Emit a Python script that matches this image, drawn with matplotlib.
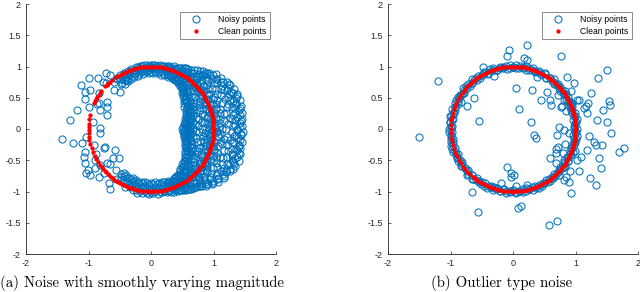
import numpy as np
import matplotlib.pyplot as plt

BLUE = '#0072BD'
RED = '#FF0000'
GRAY = '#262626'

# ---------- tick labels ----------
x_ticks = [-2, -1, 0, 1, 2]
x_tick_labels = ['-2', '-1', '0', '1', '2']
y_ticks = [-2, -1.5, -1, -0.5, 0, 0.5, 1, 1.5, 2]
y_tick_labels = ['-2', '-1.5', '-1', '-0.5', '0', '0.5', '1', '1.5', '2']

captions = ['(a) Noise with smoothly varying magnitude', '(b) Outlier type noise']

# ---------- (a) noisy points, right crescent: angle (deg) -> radii (x100) ----------
crescent_deg = [-74, -72, -70, -68, -66, -64, -62, -60, -58, -56, -54, -52, -50, -48, -46,
                -44, -42, -40, -38, -36, -34, -32, -30, -28, -26, -24, -22, -20, -18, -16,
                -14, -12, -10, -8, -6, -4, -2, 0, 2, 4, 6, 8, 10, 12, 14, 16, 18, 20, 22,
                24, 26, 28, 30, 32, 34, 36, 38, 40, 42, 44, 46, 48, 50, 52, 54, 56, 58, 60,
                62, 64, 66, 68, 70, 72, 74]
crescent_r = [
    [90, 99, 104], [88, 96, 106], [92, 101, 107], [89, 97, 103], [91, 100, 108],
    [88, 93, 104, 108], [86, 99, 102, 111], [89, 95, 107, 112], [84, 98, 103, 113],
    [87, 91, 106, 115], [80, 97, 101, 117], [85, 89, 109, 118],
    [79, 86, 101, 112, 120], [75, 93, 99, 116, 123], [80, 88, 105, 110, 127],
    [73, 96, 102, 121, 126], [78, 84, 108, 115, 132], [70, 91, 97, 124, 129],
    [76, 87, 106, 113, 137], [68, 94, 100, 119, 133], [73, 83, 109, 127, 141],
    [65, 90, 103, 117, 136],
    [66, 71, 98, 104, 122, 139], [63, 85, 90, 117, 133, 144], [61, 78, 81, 112, 126, 146],
    [68, 74, 101, 108, 139, 147], [58, 83, 96, 119, 124, 142], [62, 70, 92, 113, 130, 149],
    [57, 88, 99, 106, 137, 145], [65, 76, 94, 121, 128, 148], [54, 80, 87, 110, 134, 141],
    [60, 73, 103, 116, 125, 146], [53, 69, 91, 97, 132, 143], [58, 84, 89, 118, 127, 147],
    [51, 66, 95, 107, 122, 140], [63, 77, 86, 111, 136, 145], [55, 72, 100, 105, 129, 147],
    [50, 81, 93, 114, 120, 138], [59, 67, 88, 109, 131, 146], [52, 75, 97, 102, 124, 142],
    [64, 70, 90, 117, 135, 147], [54, 82, 85, 112, 127, 139], [61, 68, 99, 106, 133, 148],
    [56, 79, 92, 119, 123, 144], [66, 74, 87, 104, 138, 149], [57, 85, 96, 115, 126, 141],
    [63, 71, 101, 110, 130, 150], [59, 77, 93, 121, 134, 145], [68, 82, 89, 107, 128, 148],
    [61, 75, 98, 116, 137, 143], [70, 86, 94, 111, 125, 147], [64, 78, 103, 119, 132, 140],
    [67, 84, 91, 108, 129, 145],
    [69, 80, 106, 122, 143], [64, 92, 98, 117, 135], [72, 86, 104, 125, 139],
    [67, 95, 101, 114, 131], [74, 83, 108, 120, 136], [70, 90, 97, 118, 128],
    [77, 87, 103, 112, 130], [73, 94, 100, 121, 125], [80, 85, 107, 114, 124],
    [76, 92, 98, 111, 121],
    [81, 96, 104, 119], [86, 92, 110, 116], [83, 99, 102, 114], [88, 94, 107, 113],
    [85, 97, 100, 112], [89, 93, 105, 110], [87, 98, 103, 109],
    [88, 98, 106], [89, 95, 104], [90, 99, 107], [88, 97, 103], [91, 100, 105]]

# second, interleaved set of crescent points
crescent2_deg = [-73, -71, -69, -67, -65, -63, -61, -59, -57, -55, -53, -51, -49, -47, -45,
                 -43, -41, -39, -37, -35, -33, -31, -29, -27, -25, -23, -21, -19, -17, -15,
                 -13, -11, -9, -7, -5, -3, -1, 1, 3, 5, 7, 9, 11, 13, 15, 17, 19, 21, 23,
                 25, 27, 29, 31, 33, 35, 37, 39, 41, 43, 45, 47, 49, 51, 53, 55, 57, 59,
                 61, 63, 65, 67, 69, 71, 73]
crescent2_r = [
    [93, 102], [89, 98], [94, 105], [90, 100], [86, 97, 107], [91, 103, 110],
    [87, 96, 108], [85, 101, 111], [90, 99, 114], [82, 95, 112], [87, 104, 116],
    [79, 93, 118], [84, 102, 120], [77, 97, 114], [82, 108, 125], [75, 93, 119],
    [79, 104, 131], [72, 99, 122], [81, 110, 134], [70, 95, 128], [77, 105, 139],
    [67, 101, 131], [74, 94, 137], [65, 108, 141], [71, 99, 134], [62, 113, 145],
    [69, 97, 138], [60, 107, 142], [67, 92, 135], [58, 103, 146], [64, 98, 139],
    [56, 112, 144], [62, 95, 134], [55, 109, 143], [60, 91, 133], [53, 106, 144],
    [61, 98, 137], [55, 103, 142], [62, 94, 135], [57, 111, 145], [60, 99, 130],
    [56, 105, 144], [63, 93, 137], [58, 113, 146], [65, 100, 134], [60, 108, 143],
    [66, 97, 139], [62, 111, 147], [69, 102, 133], [65, 95, 141], [72, 113, 136],
    [67, 100, 144], [74, 109, 133], [70, 96, 138], [77, 112, 129], [71, 99, 133],
    [79, 110, 126], [73, 101, 131], [81, 107, 122], [76, 97, 127], [83, 109, 119],
    [79, 100, 117], [84, 106], [82, 112], [87, 101], [85, 109], [90, 104], [87, 111],
    [91, 101], [89, 107], [92, 102], [90, 105], [93, 100], [91, 104]]

# (a) noisy points, top band
top_deg = [76, 78, 80, 82, 84, 86, 88, 90, 92, 94, 96, 98, 100, 102, 104, 106, 108, 110,
           112, 114, 116, 118, 120, 122, 124]
top_r = [[89, 97, 104], [91, 99, 103], [88, 95, 102], [92, 98, 103], [90, 96, 101],
         [93, 99, 103], [89, 97, 102], [92, 98, 103], [90, 95, 101], [93, 99, 102],
         [91, 97, 103], [89, 96, 101], [92, 99, 102], [90, 95, 101], [88, 97, 102],
         [91, 98], [87, 96, 101], [90, 99], [86, 94, 100], [89, 97], [85, 93, 100],
         [88, 96], [84, 92, 99], [87, 95], [86, 98]]

# (a) noisy points, bottom band
bottom_deg = [-76, -78, -80, -82, -84, -86, -88, -90, -92, -94, -96, -98, -100, -102, -104,
              -106, -108, -110, -112, -114, -116, -118, -120, -122, -124]
bottom_r = [[88, 96, 104], [86, 94, 102], [90, 98, 103], [87, 95, 101], [89, 97, 104],
            [85, 93, 100], [88, 96, 103], [86, 94, 101], [89, 97, 104], [87, 95, 102],
            [85, 92, 99], [88, 96, 103], [86, 94, 101], [89, 97, 104], [87, 95, 100],
            [85, 93, 102], [88, 96], [84, 91, 99], [87, 95], [85, 93, 101], [88, 97],
            [84, 92], [86, 95], [83, 90], [87, 96]]

# (a) sparse noisy points on the left
left_x = [-1.42, -1.30, -1.25, -1.19, -1.12, -1.11, -1.06, -1.05, -0.99, -0.98, -0.99,
          -1.04, -1.05, -1.08, -1.06, -1.01, -1.04, -0.98, -0.93, -0.92, -0.85, -0.84,
          -0.87, -0.82, -0.88, -0.89, -0.81, -0.89, -0.83, -0.76, -0.72, -0.70, -0.70,
          -0.72, -0.60, -0.49, -0.60, -0.58, -0.74, -0.71, -0.61, -0.51, -0.65, -0.56,
          -0.65, -0.68, -0.76, -0.82, -0.81, -0.83, -0.71, -0.77, -0.65, -0.55, -0.39,
          -0.44]
left_y = [-0.16, 0.14, -0.22, 0.31, 0.71, -0.22, 0.60, 0.48, 0.82, 0.62, 0.35,
          -0.12, -0.36, -0.45, -0.55, -0.65, -0.71, -0.74, 0.12, -0.26, 0.82, 0.58,
          0.40, 0.02, -0.40, -0.50, -0.57, -0.63, -0.76, -0.31, 0.73, 0.44, 0.22,
          0.90, 0.63, 0.60, 0.75, -0.33, -0.29, -0.54, -0.46, -0.46, -0.56, -0.65,
          -0.96, -0.86, -0.71, -0.06, 0.30, 0.41, 0.36, 0.76, 0.86, 0.80, 0.78,
          0.88]

# (a) clean points, angles in degrees
clean_a_deg = [-132, -130, -128, -126, -124, -122, -120, -118, -116, -114, -112, -110,
               -108, -106, -104, -102, -100, -98, -96, -94, -92, -90, -88, -86, -84, -82,
               -80, -78, -76, -74, -72, -70, -68, -66, -64, -62, -60, -58, -56, -54, -52,
               -50, -48, -46, -44, -42, -40, -38, -36, -34, -32, -30, -28, -26, -24, -22,
               -20, -18, -16, -14, -12, -10, -8, -6, -4, -2, 0, 2, 4, 6, 8, 10, 12, 14,
               16, 18, 20, 22, 24, 26, 28, 30, 32, 34, 36, 38, 40, 42, 44, 46, 48, 50, 52,
               54, 56, 58, 60, 62, 64, 66, 68, 70, 72, 74, 76, 78, 80, 82, 84, 86, 88, 90,
               92, 94, 96, 98, 100, 102, 104, 106, 108, 110, 112, 114, 116, 118, 120, 122,
               124, 129, 131, 133, 135, 137, 143, 145, 147, 149, 151, 153, 155, 167, 171,
               175, 178, 181, 184, 187, 190, 194, 198, 202, 206, 209, 212, 215, 218, 220,
               222, 224, 226]

# ---------- (b) noisy points: ring close to the circle ----------
ring_deg = [0, 3, 6, 9, 12, 15, 18, 21, 24, 27, 30, 33, 36, 39, 42, 45, 48, 51, 54, 57,
            60, 63, 66, 69, 72, 75, 78, 81, 84, 87, 90, 93, 96, 99, 102, 105, 108, 111,
            114, 117, 120, 123, 126, 129, 132, 135, 138, 141, 144, 147, 150, 153, 156,
            159, 162, 165, 168, 171, 174, 177, 180, 183, 186, 189, 192, 195, 198, 201,
            204, 207, 210, 213, 216, 219, 222, 225, 228, 231, 234, 237, 240, 243, 246,
            249, 252, 255, 258, 261, 264, 267, 270, 273, 276, 279, 282, 285, 288, 291,
            294, 297, 300, 303, 306, 309, 312, 315, 318, 321, 324, 327, 330, 333, 336,
            339, 342, 345, 348, 351, 354, 357]
ring_r = [
    [98, 102], [100, 97], [101, 99], [97, 103], [99, 101], [102, 98], [98, 100], [101, 97], [99, 103], [100, 98],
    [97, 101], [102, 99], [98, 103], [100, 97], [101, 99], [99, 102], [97, 100], [103, 98], [100, 101], [98, 97],
    [101, 103], [99, 98], [102, 100], [97, 99], [100, 102], [98, 101], [103, 97], [99, 100], [101, 98], [97, 102],
    [100, 99], [98, 103], [102, 97], [99, 101], [101, 100], [97, 98], [103, 99], [100, 102], [98, 97], [101, 103],
    [99, 100], [102, 98], [97, 101], [100, 103], [98, 99], [101, 97], [99, 102], [103, 100], [97, 98], [100, 101],
    [102, 99], [98, 103], [101, 97], [99, 100], [97, 102], [100, 98], [103, 101], [98, 99], [101, 102], [99, 97],
    [102, 100], [97, 103], [100, 99], [98, 101], [101, 98], [99, 103], [103, 97], [100, 102], [97, 99], [101, 100],
    [98, 102], [100, 97], [102, 101], [99, 98], [97, 100], [101, 103], [98, 99], [103, 102], [100, 97], [99, 101],
    [101, 98], [97, 102], [100, 103], [98, 100], [102, 99], [99, 97], [101, 102], [97, 98], [103, 100], [100, 101],
    [98, 97], [101, 103], [99, 100], [102, 98], [97, 101], [100, 99], [98, 102], [101, 97], [99, 103], [103, 98],
    [100, 100], [97, 102], [102, 99], [98, 101], [101, 97], [99, 103], [100, 98], [97, 100], [103, 101], [98, 99],
    [101, 102], [99, 97], [102, 100], [97, 103], [100, 98], [98, 101], [101, 99], [99, 102], [103, 97], [100, 101]]

# (b) outliers
outlier_x = [-1.50, -1.20, -0.48, -0.31, -0.63, -0.73, -0.83, -0.54, -0.07, -0.09, 0.23,
             0.18, 0.22, 0.76, 0.39, 0.05, 0.31, 0.10, 0.28, 0.45, 0.55, 0.59, 0.61, 0.72,
             0.87, 0.98, 0.92, 0.82, 0.79, 0.76, 0.84, 0.93, 1.02, 1.05, 1.24, 1.20, 1.17,
             1.13, 1.18, 1.50, 1.36, 1.53, 1.55, 1.44, 1.35, 1.51, 1.56, 1.77, 1.69, 1.43,
             1.29, 1.32, 1.21, 1.19, 1.37, 1.23, 1.33, 1.41, 0.73, 0.81, 0.90, 0.70, 0.72,
             0.68, 0.69, 0.83, 0.80, 0.81, 0.59, 0.68, 0.33, 0.37, 1.03, 1.08, 0.99, 0.91,
             0.84, 0.81, 0.89, 0.92, 1.05, -0.09, -0.03, 0.01, -0.03, -0.20, -0.31, -0.65,
             -0.56, 0.12, 0.08, 0.58, 0.70, 0.23, 0.04]
outlier_y = [-0.13, 0.77, 1.00, 0.85, 0.49, 0.37, 0.44, 0.13, 1.27, 1.17, 1.35,
             1.13, 1.10, 1.17, 0.84, 0.66, 0.63, 0.32, 0.12, 0.46, 0.60, 0.46, 0.39, 0.54,
             0.83, 0.74, 0.61, 0.46, 0.37, 0.36, 0.29, 0.42, 0.46, 0.47, 0.57, 0.42, 0.37,
             0.33, 0.26, 0.95, 0.81, 0.45, 0.39, 0.30, 0.14, 0.12, -0.06, -0.30, -0.37, -0.25,
             -0.20, -0.26, -0.11, -0.34, -0.46, -0.79, -0.90, -0.63, 0.04, -0.02, -0.06, -0.09, -0.29,
             -0.32, -0.39, -0.24, -0.38, -0.49, -0.46, -0.55, -0.10, -0.15, -0.50, -0.44, -0.35, -0.67,
             -0.76, -0.82, -0.85, -1.02, -0.67, -0.60, -0.71, -0.73, -0.76, -0.86, -0.93, -1.00,
             -1.33, -1.23, -1.26, -1.53, -1.47, -0.89, -0.91]

# (b) clean points, angles in degrees
clean_b_deg = [-130, -128, -126, -124, -122, -120, -118, -116, -114, -112, -110, -108,
               -106, -104, -102, -100, -98, -96, -94, -92, -90, -88, -86, -84, -82, -80,
               -78, -76, -74, -72, -70, -68, -66, -64, -62, -60, -58, -56, -54, -52, -50,
               -48, -46, -44, -42, -40, -38, -36, -34, -32, -30, -28, -26, -24, -22, -20,
               -18, -16, -14, -12, -10, -8, -6, -4, -2, 0, 2, 4, 6, 8, 10, 12, 14, 16, 18,
               20, 22, 24, 26, 28, 30, 32, 34, 36, 38, 40, 42, 44, 46, 48, 50, 52, 54, 56,
               58, 60, 62, 64, 66, 68, 70, 72, 74, 76, 78, 80, 82, 84, 86, 88, 90, 92, 94,
               96, 98, 100, 102, 104, 106, 108, 110, 112, 114, 116, 118, 120, 122, 124,
               126, 128, 130, 132, 134, 137, 140, 142, 145, 148, 151, 155, 158, 161, 165,
               169, 172, 176, 180, 184, 188, 191, 195, 199, 203, 206, 210, 213, 217, 220,
               223, 226]


def polar_rows(deg, rows):
    t, r = [], []
    for d, rr in zip(deg, rows):
        for v in rr:
            t.append(d)
            r.append(v / 100)
    t = np.radians(t)
    r = np.array(r)
    return r * np.cos(t), r * np.sin(t)


def on_circle(deg):
    t = np.radians(deg)
    return np.cos(t), np.sin(t)


def style_axes(ax):
    ax.set_xlim(-2, 2)
    ax.set_ylim(-2, 2)
    ax.set_xticks(x_ticks)
    ax.set_xticklabels(x_tick_labels)
    ax.set_yticks(y_ticks)
    ax.set_yticklabels(y_tick_labels)
    for s in ['top', 'right']:
        ax.spines[s].set_visible(False)
    for s in ['left', 'bottom']:
        ax.spines[s].set_color(GRAY)
        ax.spines[s].set_linewidth(0.6)
    ax.tick_params(direction='in', length=2.2, width=0.5, colors=GRAY,
                   labelsize=6.5, pad=3.6)
    leg = ax.legend(loc='upper right', bbox_to_anchor=(0.976, 0.969), borderaxespad=0,
                    fontsize=6.2, frameon=True, fancybox=False, edgecolor='#555555',
                    handlelength=2.8, handletextpad=1.2, labelspacing=0.3,
                    borderpad=0.4)
    leg.get_frame().set_linewidth(0.6)


def draw(ax, nx, ny, cx, cy):
    ax.plot(nx, ny, 'o', mfc='none', mec=BLUE, ms=5.1, mew=0.75, ls='none',
            label='Noisy points')
    ax.plot(cx, cy, 'o', color=RED, ms=3.1, mew=0, ls='none', label='Clean points')
    style_axes(ax)


plt.rcParams['font.family'] = ['Liberation Sans', 'DejaVu Sans']

fig = plt.figure(figsize=(6.4, 2.92), dpi=100)
ax1 = fig.add_axes([26 / 640, 38 / 292, 250 / 640, 250 / 292])
ax2 = fig.add_axes([388 / 640, 38 / 292, 250 / 640, 250 / 292])

# panel (a)
parts = [polar_rows(crescent_deg, crescent_r), polar_rows(crescent2_deg, crescent2_r),
         polar_rows(top_deg, top_r), polar_rows(bottom_deg, bottom_r),
         (np.array(left_x), np.array(left_y))]
nx_a = np.concatenate([p[0] for p in parts])
ny_a = np.concatenate([p[1] for p in parts])
cx_a, cy_a = on_circle(clean_a_deg)
draw(ax1, nx_a, ny_a, cx_a, cy_a)

# panel (b)
rx, ry = polar_rows(ring_deg, ring_r)
nx_b = np.concatenate([rx, outlier_x])
ny_b = np.concatenate([ry, outlier_y])
cx_b, cy_b = on_circle(clean_b_deg)
draw(ax2, nx_b, ny_b, cx_b, cy_b)

fig.text(142 / 640, 5 / 292, captions[0], ha='center', va='baseline',
         family='cmr10', fontsize=10.7)
fig.text(502 / 640, 5 / 292, captions[1], ha='center', va='baseline',
         family='cmr10', fontsize=10.7)

fig.savefig('out.png', dpi=100)
